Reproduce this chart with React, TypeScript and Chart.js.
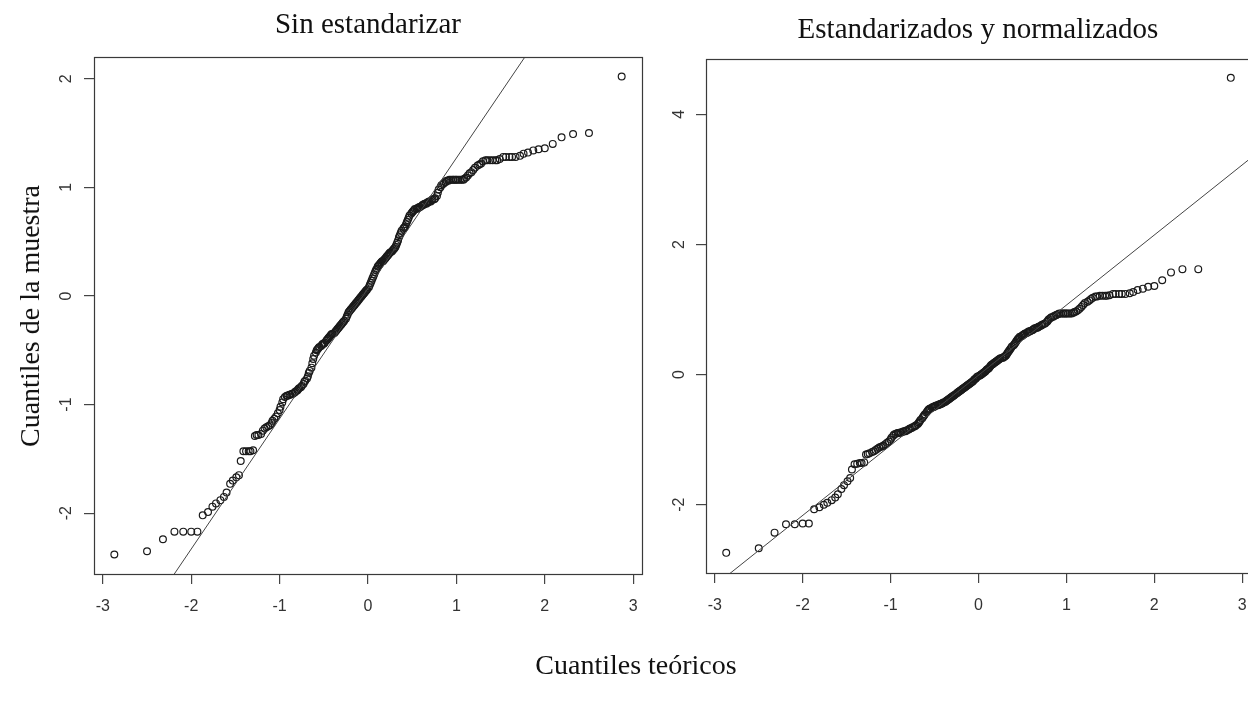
import React, { useEffect, useRef } from "react";
import { Chart, registerables } from "chart.js";

Chart.register(...registerables);

// Theoretical normal quantiles (n = 244)
const theoreticalQuantiles: number[] = [
  -2.87, -2.50, -2.32, -2.19, -2.09, -2.00, -1.93, -1.87, -1.81, -1.76,
  -1.72, -1.67, -1.63, -1.60, -1.56, -1.53, -1.49, -1.46, -1.44, -1.41,
  -1.38, -1.35, -1.33, -1.30, -1.28, -1.26, -1.24, -1.21, -1.19, -1.17,
  -1.15, -1.13, -1.11, -1.09, -1.08, -1.06, -1.04, -1.02, -1.00, -0.99,
  -0.97, -0.96, -0.94, -0.92, -0.91, -0.89, -0.88, -0.86, -0.85, -0.83,
  -0.82, -0.80, -0.79, -0.78, -0.76, -0.75, -0.73, -0.72, -0.71, -0.69,
  -0.68, -0.67, -0.66, -0.64, -0.63, -0.62, -0.61, -0.59, -0.58, -0.57,
  -0.56, -0.55, -0.53, -0.52, -0.51, -0.50, -0.49, -0.47, -0.46, -0.45,
  -0.44, -0.43, -0.42, -0.41, -0.40, -0.38, -0.37, -0.36, -0.35, -0.34,
  -0.33, -0.32, -0.31, -0.30, -0.29, -0.28, -0.27, -0.25, -0.24, -0.23,
  -0.22, -0.21, -0.20, -0.19, -0.18, -0.17, -0.16, -0.15, -0.14, -0.13,
  -0.12, -0.11, -0.10, -0.09, -0.08, -0.07, -0.06, -0.05, -0.04, -0.03,
  -0.02, -0.01,
  0.01, 0.02, 0.03, 0.04, 0.05, 0.06, 0.07, 0.08, 0.09, 0.10,
  0.11, 0.12, 0.13, 0.14, 0.15, 0.16, 0.17, 0.18, 0.19, 0.20,
  0.21, 0.22, 0.23, 0.24, 0.25, 0.27, 0.28, 0.29, 0.30, 0.31,
  0.32, 0.33, 0.34, 0.35, 0.36, 0.37, 0.38, 0.40, 0.41, 0.42,
  0.43, 0.44, 0.45, 0.46, 0.47, 0.49, 0.50, 0.51, 0.52, 0.53,
  0.55, 0.56, 0.57, 0.58, 0.59, 0.61, 0.62, 0.63, 0.64, 0.66,
  0.67, 0.68, 0.69, 0.71, 0.72, 0.73, 0.75, 0.76, 0.78, 0.79,
  0.80, 0.82, 0.83, 0.85, 0.86, 0.88, 0.89, 0.91, 0.92, 0.94,
  0.96, 0.97, 0.99, 1.00, 1.02, 1.04, 1.06, 1.08, 1.09, 1.11,
  1.13, 1.15, 1.17, 1.19, 1.21, 1.24, 1.26, 1.28, 1.30, 1.33,
  1.35, 1.38, 1.41, 1.44, 1.46, 1.49, 1.53, 1.56, 1.60, 1.63,
  1.67, 1.72, 1.76, 1.81, 1.87, 1.93, 2.00, 2.09, 2.19, 2.32,
  2.50, 2.87,
];

// Sample quantiles, left panel ("Sin estandarizar")
const sinEstandarizar: number[] = [
  -2.38, -2.35, -2.24, -2.17, -2.17, -2.17, -2.17, -2.02, -1.99, -1.94,
  -1.91, -1.88, -1.85, -1.81, -1.73, -1.70, -1.67, -1.65, -1.52, -1.43,
  -1.43, -1.43, -1.43, -1.42, -1.29, -1.28, -1.28, -1.27, -1.24, -1.22,
  -1.21, -1.20, -1.19, -1.17, -1.15, -1.13, -1.11, -1.08, -1.05, -1.02,
  -0.98, -0.95, -0.93, -0.92, -0.92, -0.91, -0.91, -0.90, -0.90, -0.89,
  -0.88, -0.87, -0.86, -0.85, -0.84, -0.83, -0.81, -0.79, -0.78, -0.76,
  -0.74, -0.71, -0.69, -0.66, -0.62, -0.58, -0.55, -0.52, -0.50, -0.49,
  -0.48, -0.47, -0.46, -0.45, -0.44, -0.44, -0.43, -0.41, -0.40, -0.39,
  -0.38, -0.37, -0.36, -0.35, -0.35, -0.34, -0.33, -0.32, -0.31, -0.30,
  -0.29, -0.28, -0.27, -0.26, -0.25, -0.24, -0.23, -0.21, -0.19, -0.17,
  -0.15, -0.14, -0.13, -0.12, -0.11, -0.10, -0.09, -0.08, -0.07, -0.06,
  -0.05, -0.04, -0.03, -0.02, -0.01, 0.00, 0.01, 0.02, 0.03, 0.04,
  0.05, 0.06,
  0.08, 0.10, 0.12, 0.14, 0.16, 0.18, 0.20, 0.22, 0.24, 0.25,
  0.27, 0.28, 0.29, 0.30, 0.31, 0.32, 0.32, 0.33, 0.34, 0.35,
  0.36, 0.37, 0.38, 0.39, 0.40, 0.41, 0.42, 0.43, 0.44, 0.45,
  0.47, 0.49, 0.51, 0.54, 0.56, 0.58, 0.60, 0.62, 0.63, 0.64,
  0.66, 0.68, 0.70, 0.72, 0.74, 0.76, 0.77, 0.78, 0.79, 0.80,
  0.80, 0.81, 0.81, 0.82, 0.82, 0.83, 0.84, 0.84, 0.85, 0.85,
  0.86, 0.86, 0.87, 0.87, 0.88, 0.89, 0.89, 0.90, 0.92, 0.95,
  0.98, 1.00, 1.02, 1.03, 1.04, 1.05, 1.06, 1.06, 1.07, 1.07,
  1.07, 1.07, 1.07, 1.07, 1.07, 1.07, 1.07, 1.07, 1.08, 1.09,
  1.11, 1.13, 1.14, 1.16, 1.18, 1.20, 1.21, 1.22, 1.24, 1.25,
  1.25, 1.25, 1.25, 1.25, 1.25, 1.26, 1.28, 1.28, 1.28, 1.28,
  1.28, 1.29, 1.31, 1.32, 1.34, 1.35, 1.36, 1.40, 1.46, 1.49,
  1.50, 2.02,
];

// Sample quantiles, right panel ("Estandarizados y normalizados")
const estandarizados: number[] = [
  -2.74, -2.67, -2.43, -2.30, -2.30, -2.29, -2.29, -2.07, -2.04, -2.00,
  -1.97, -1.93, -1.89, -1.84, -1.76, -1.70, -1.64, -1.59, -1.46, -1.38,
  -1.37, -1.36, -1.36, -1.35, -1.23, -1.22, -1.21, -1.19, -1.18, -1.16,
  -1.14, -1.12, -1.11, -1.10, -1.09, -1.07, -1.05, -1.03, -1.00, -0.97,
  -0.94, -0.92, -0.91, -0.90, -0.90, -0.89, -0.89, -0.88, -0.87, -0.87,
  -0.86, -0.85, -0.84, -0.83, -0.82, -0.81, -0.80, -0.79, -0.78, -0.76,
  -0.74, -0.72, -0.70, -0.67, -0.65, -0.63, -0.61, -0.58, -0.56, -0.54,
  -0.53, -0.52, -0.51, -0.50, -0.50, -0.49, -0.48, -0.47, -0.47, -0.46,
  -0.46, -0.45, -0.45, -0.44, -0.43, -0.42, -0.41, -0.40, -0.39, -0.38,
  -0.37, -0.36, -0.35, -0.34, -0.33, -0.32, -0.31, -0.29, -0.28, -0.27,
  -0.26, -0.25, -0.24, -0.23, -0.22, -0.21, -0.20, -0.19, -0.18, -0.17,
  -0.16, -0.15, -0.14, -0.13, -0.12, -0.11, -0.10, -0.08, -0.07, -0.06,
  -0.04, -0.03,
  -0.02, -0.01, 0.00, 0.01, 0.02, 0.03, 0.04, 0.05, 0.07, 0.08,
  0.09, 0.10, 0.12, 0.14, 0.15, 0.16, 0.17, 0.18, 0.19, 0.20,
  0.21, 0.22, 0.23, 0.24, 0.25, 0.26, 0.26, 0.27, 0.28, 0.29,
  0.31, 0.33, 0.35, 0.37, 0.39, 0.41, 0.43, 0.45, 0.47, 0.49,
  0.51, 0.53, 0.55, 0.56, 0.58, 0.59, 0.60, 0.61, 0.62, 0.63,
  0.64, 0.65, 0.66, 0.66, 0.67, 0.68, 0.69, 0.70, 0.71, 0.72,
  0.72, 0.73, 0.74, 0.75, 0.76, 0.77, 0.78, 0.79, 0.81, 0.83,
  0.85, 0.87, 0.88, 0.89, 0.90, 0.91, 0.92, 0.93, 0.94, 0.94,
  0.94, 0.94, 0.94, 0.94, 0.94, 0.94, 0.94, 0.95, 0.96, 0.97,
  0.99, 1.01, 1.04, 1.07, 1.10, 1.12, 1.14, 1.16, 1.18, 1.20,
  1.20, 1.21, 1.21, 1.21, 1.21, 1.22, 1.24, 1.24, 1.24, 1.24,
  1.24, 1.25, 1.27, 1.30, 1.32, 1.35, 1.36, 1.45, 1.57, 1.62,
  1.62, 4.56,
];

// Reference (qqline) end points
const qqLineX: number[] = [-3.1, 3.1];
const qqLineLeftY: number[] = [-3.65, 3.79];
const qqLineRightY: number[] = [-3.35, 3.33];

// Axis ranges
const xRange: number[] = [-3.1, 3.1];
const leftYRange: number[] = [-2.56, 2.2];
const rightYRange: number[] = [-3.05, 4.85];

const SANS = "'Liberation Sans', Arial, Helvetica, sans-serif";
const SERIF = "'Liberation Serif', 'Times New Roman', Times, serif";

const rotatedYLabels = {
  id: "rotatedYLabels",
  afterDraw(chart: any, _args: any, opts: any) {
    const s = chart.scales.y;
    const ctx = chart.ctx;
    ctx.save();
    ctx.font = `${opts.size}px ${SANS}`;
    ctx.fillStyle = opts.color;
    ctx.textAlign = "center";
    ctx.textBaseline = "middle";
    s.ticks.forEach((t: any) => {
      const y = s.getPixelForValue(t.value);
      ctx.save();
      ctx.translate(opts.x, y);
      ctx.rotate(-Math.PI / 2);
      ctx.fillText(String(t.value), 0, 0);
      ctx.restore();
    });
    ctx.restore();
  },
};

const frameBox = {
  id: "frameBox",
  afterDraw(chart: any) {
    const { left, top, right, bottom } = chart.chartArea;
    const ctx = chart.ctx;
    ctx.save();
    ctx.strokeStyle = "#3a3a3a";
    ctx.lineWidth = 1.2;
    ctx.strokeRect(Math.round(left) + 0.5, Math.round(top) + 0.5, Math.round(right - left), Math.round(bottom - top));
    ctx.restore();
  },
};

function buildConfig(p: {
  ys: number[];
  lineY: number[];
  yRange: number[];
  yStep: number;
  yAxisWidth: number;
  padding: { left: number; top: number; right: number; bottom: number };
  yLabelX: number;
}): any {
  const points = theoreticalQuantiles.map((x, i) => ({ x, y: p.ys[i] }));
  const line = qqLineX.map((x, i) => ({ x, y: p.lineY[i] }));
  const grid = {
    display: true,
    drawOnChartArea: false,
    drawTicks: true,
    tickLength: 10,
    color: "#444",
    lineWidth: 1.2,
  };
  return {
    type: "scatter",
    data: {
      datasets: [
        {
          data: line,
          showLine: true,
          borderColor: "#444",
          borderWidth: 1,
          pointRadius: 0,
          fill: false,
        },
        {
          data: points,
          showLine: false,
          pointStyle: "circle",
          pointRadius: 3.4,
          pointBorderWidth: 1.2,
          pointBorderColor: "#1a1a1a",
          pointBackgroundColor: "rgba(0,0,0,0)",
          pointHoverRadius: 3.4,
        },
      ],
    },
    options: {
      animation: false,
      responsive: false,
      maintainAspectRatio: false,
      events: [],
      layout: { padding: p.padding },
      plugins: {
        legend: { display: false },
        tooltip: { enabled: false },
        title: { display: false },
        rotatedYLabels: { x: p.yLabelX, size: 16, color: "#333" },
      },
      scales: {
        x: {
          type: "linear",
          position: "bottom",
          min: xRange[0],
          max: xRange[1],
          grid,
          border: { display: false },
          ticks: {
            stepSize: 1,
            includeBounds: false,
            color: "#333",
            padding: 13,
            maxRotation: 0,
            font: { family: SANS, size: 16 },
            callback: (v: any) => String(v),
          },
          afterFit: (s: any) => {
            s.height = 60;
          },
        },
        y: {
          type: "linear",
          position: "left",
          min: p.yRange[0],
          max: p.yRange[1],
          grid,
          border: { display: false },
          ticks: {
            stepSize: p.yStep,
            includeBounds: false,
            display: false,
          },
          afterFit: (s: any) => {
            s.width = p.yAxisWidth;
          },
        },
      },
    },
    plugins: [rotatedYLabels, frameBox],
  };
}

export default function App() {
  const leftRef = useRef<HTMLCanvasElement>(null);
  const rightRef = useRef<HTMLCanvasElement>(null);

  useEffect(() => {
    const c1 = new Chart(
      leftRef.current as HTMLCanvasElement,
      buildConfig({
        ys: sinEstandarizar,
        lineY: qqLineLeftY,
        yRange: leftYRange,
        yStep: 1,
        yAxisWidth: 94,
        padding: { left: 0, top: 57, right: 18, bottom: 70 },
        yLabelX: 67,
      })
    );
    const c2 = new Chart(
      rightRef.current as HTMLCanvasElement,
      buildConfig({
        ys: estandarizados,
        lineY: qqLineRightY,
        yRange: rightYRange,
        yStep: 2,
        yAxisWidth: 46,
        padding: { left: 0, top: 59, right: 29, bottom: 71 },
        yLabelX: 20,
      })
    );
    return () => {
      c1.destroy();
      c2.destroy();
    };
  }, []);

  const textBase: React.CSSProperties = {
    position: "absolute",
    fontFamily: SERIF,
    color: "#111",
    whiteSpace: "nowrap",
    lineHeight: 1,
    transform: "translate(-50%, -50%)",
  };

  return (
    <div
      style={{
        position: "fixed",
        left: 0,
        top: 0,
        width: 1248,
        height: 704,
        overflow: "hidden",
        background: "#fff",
      }}
    >
      <canvas
        ref={leftRef}
        width={660}
        height={704}
        style={{ position: "absolute", left: 0, top: 0, width: 660, height: 704 }}
      />
      <canvas
        ref={rightRef}
        width={620}
        height={704}
        style={{ position: "absolute", left: 660, top: 0, width: 620, height: 704 }}
      />
      <div style={{ ...textBase, left: 368, top: 23, fontSize: 29 }}>Sin estandarizar</div>
      <div style={{ ...textBase, left: 978, top: 28, fontSize: 29 }}>Estandarizados y normalizados</div>
      <div
        style={{
          ...textBase,
          left: 30,
          top: 316,
          fontSize: 28,
          transform: "translate(-50%, -50%) rotate(-90deg)",
        }}
      >
        Cuantiles de la muestra
      </div>
      <div style={{ ...textBase, left: 636, top: 665, fontSize: 28 }}>Cuantiles teóricos</div>
    </div>
  );
}
